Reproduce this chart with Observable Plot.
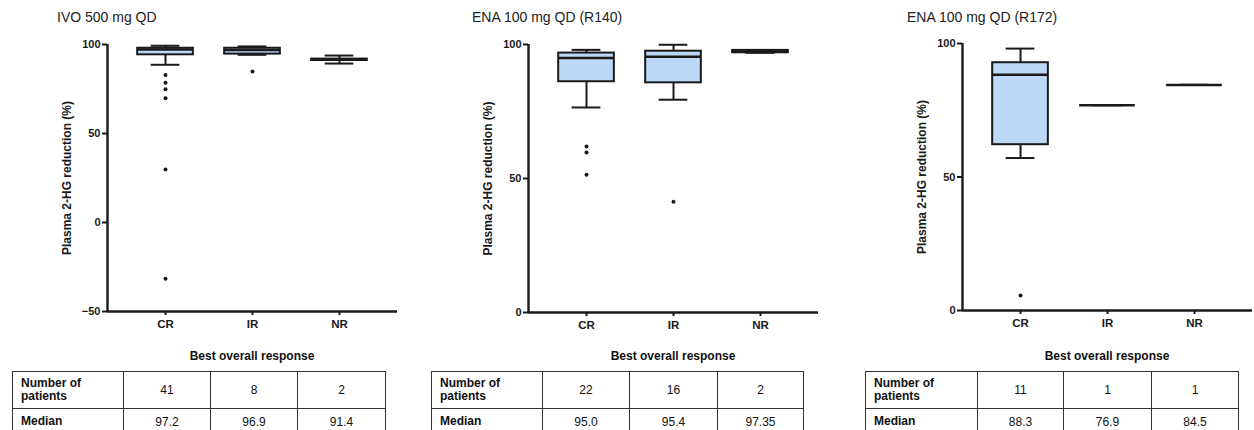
<!DOCTYPE html>
<html><head><meta charset="utf-8">
<script src="https://cdn.jsdelivr.net/npm/d3@7"></script>
<script src="https://cdn.jsdelivr.net/npm/@observablehq/plot@0.6"></script>
<style>
body{margin:0;width:1254px;height:430px;overflow:hidden;background:#fff;font-family:"Liberation Sans",Arial,sans-serif;position:relative;color:#111}
.title{position:absolute;top:9px;font-size:14px;line-height:16px;color:#222;white-space:nowrap}
.xlab{position:absolute;font-size:12px;line-height:14px;font-weight:bold;top:349px;transform:translateX(-50%);white-space:nowrap}
table{position:absolute;top:371px;border-collapse:collapse;font-size:12px;table-layout:fixed}
td{border:1.5px solid #333;text-align:center;padding:0}
td.h{text-align:left;font-weight:bold;padding-left:8px;line-height:13px}
.wrap{position:absolute;top:0}
</style></head><body>
<script>
// ---- data ----
const categories = ["CR", "IR", "NR"];
const titles = ["IVO 500 mg QD", "ENA 100 mg QD (R140)", "ENA 100 mg QD (R172)"];
const yLabel = "Plasma 2-HG reduction (%)";
const xLabel = "Best overall response";
const rowLabels = ["Number of patients", "Median"];

// IVO 500 mg QD
const ivoLow    = [88.6, 94.2, 89.3];
const ivoQ1     = [94.2, 94.6, 91.0];
const ivoMedian = [97.2, 96.9, 91.4];
const ivoQ3     = [97.9, 97.9, 91.8];
const ivoHigh   = [99.3, 98.9, 93.8];
const ivoOutCat = ["CR", "CR", "CR", "CR", "CR", "CR", "IR"];
const ivoOutVal = [82.8, 78.5, 74.9, 69.8, 29.8, -31.6, 84.8];
const ivoN      = [41, 8, 2];
const ivoMedTxt = ["97.2", "96.9", "91.4"];
const ivoTicks  = [-50, 0, 50, 100];

// ENA 100 mg QD (R140)
const r140Low    = [76.5, 79.4, 96.9];
const r140Q1     = [86.1, 85.7, 96.9];
const r140Median = [95.0, 95.4, 97.35];
const r140Q3     = [96.8, 97.5, 97.8];
const r140High   = [98.0, 99.9, 97.8];
const r140OutCat = ["CR", "CR", "CR", "IR"];
const r140OutVal = [61.9, 59.7, 51.4, 41.3];
const r140N      = [22, 16, 2];
const r140MedTxt = ["95.0", "95.4", "97.35"];
const r140Ticks  = [0, 50, 100];

// ENA 100 mg QD (R172)
const r172Low    = [57.1, 76.9, 84.5];
const r172Q1     = [62.1, 76.9, 84.5];
const r172Median = [88.3, 76.9, 84.5];
const r172Q3     = [92.8, 76.9, 84.5];
const r172High   = [98.1, 76.9, 84.5];
const r172OutCat = ["CR"];
const r172OutVal = [5.6];
const r172N      = [11, 1, 1];
const r172MedTxt = ["88.3", "76.9", "84.5"];
const r172Ticks  = [0, 50, 100];

// ---- layout ----
const panels = [
  {title: titles[0], low: ivoLow, q1: ivoQ1, med: ivoMedian, q3: ivoQ3, high: ivoHigh, outCat: ivoOutCat, outVal: ivoOutVal, n: ivoN, medTxt: ivoMedTxt, ticks: ivoTicks,
   yDomain: [-50, 100], left: 0, width: 410, mL: 107, mR: 13, mT: 44, mB: 29, titleX: 57, xlabX: 252, tableX: 12, cols: [111, 87, 87, 88]},
  {title: titles[1], low: r140Low, q1: r140Q1, med: r140Median, q3: r140Q3, high: r140High, outCat: r140OutCat, outVal: r140OutVal, n: r140N, medTxt: r140MedTxt, ticks: r140Ticks,
   yDomain: [0, 100], left: 420, width: 410, mL: 108, mR: 12, mT: 44, mB: 28, titleX: 472, xlabX: 673, tableX: 431, cols: [111, 87, 88, 86]},
  {title: titles[2], low: r172Low, q1: r172Q1, med: r172Median, q3: r172Q3, high: r172High, outCat: r172OutCat, outVal: r172OutVal, n: r172N, medTxt: r172MedTxt, ticks: r172Ticks,
   yDomain: [0, 100], left: 840, width: 414, mL: 122, mR: 2, mT: 43, mB: 30, titleX: 907, xlabX: 1107, tableX: 865, cols: [112, 86, 88, 87]}
];

const H = 340;
const half = 0.32, cap = 0.165, pad = 0.667;
const boxFill = "#bdd7f7", ink = "#1a1a1a";

for (const p of panels) {
  const boxes = categories.map((c, i) => ({i, low: p.low[i], q1: p.q1[i], med: p.med[i], q3: p.q3[i], high: p.high[i]}));
  const outs = p.outVal.map((v, k) => ({i: categories.indexOf(p.outCat[k]), v}));
  const chart = Plot.plot({
    width: p.width, height: H,
    marginLeft: p.mL, marginRight: p.mR, marginTop: p.mT, marginBottom: p.mB,
    style: {fontFamily: "'Liberation Sans', Arial, sans-serif", background: "transparent", overflow: "visible", color: ink},
    x: {domain: [-pad, categories.length - 1 + pad], axis: null},
    y: {domain: p.yDomain, axis: null},
    marks: [
      Plot.ruleX(boxes, {x: "i", y1: "low", y2: "q1", stroke: ink, strokeWidth: 2}),
      Plot.ruleX(boxes, {x: "i", y1: "q3", y2: "high", stroke: ink, strokeWidth: 2}),
      Plot.ruleY(boxes, {y: "low", x1: d => d.i - cap, x2: d => d.i + cap, stroke: ink, strokeWidth: 2}),
      Plot.ruleY(boxes, {y: "high", x1: d => d.i - cap, x2: d => d.i + cap, stroke: ink, strokeWidth: 2}),
      Plot.rectY(boxes, {x1: d => d.i - half, x2: d => d.i + half, y1: "q1", y2: "q3", fill: boxFill, stroke: ink, strokeWidth: 2}),
      Plot.ruleY(boxes, {y: "med", x1: d => d.i - half, x2: d => d.i + half, stroke: ink, strokeWidth: 2.5}),
      Plot.dot(outs, {x: "i", y: "v", r: 2, fill: ink, stroke: null}),
      Plot.ruleX([-pad], {stroke: ink, strokeWidth: 2.4}),
      Plot.ruleY([p.yDomain[0]], {stroke: ink, strokeWidth: 2.4}),
      Plot.axisY({ticks: p.ticks, tickSize: 5, tickPadding: 2, strokeWidth: 2, fontSize: 11, fontWeight: "bold", label: null, tickFormat: d => d < 0 ? "\u2212" + Math.abs(d) : String(d)}),
      Plot.axisX({ticks: categories.map((c, i) => i), tickSize: 4, tickPadding: 4, strokeWidth: 2, fontSize: 11.5, fontWeight: "bold", label: null, tickFormat: i => categories[i]}),
      Plot.text([yLabel], {frameAnchor: "left", textAnchor: "middle", dx: -40, rotate: -90, fontSize: 12, fontWeight: "bold", fill: ink})
    ]
  });
  const wrap = document.createElement("div");
  wrap.className = "wrap";
  wrap.style.left = p.left + "px";
  wrap.appendChild(chart);
  document.body.appendChild(wrap);

  const t = document.createElement("div");
  t.className = "title"; t.style.left = p.titleX + "px"; t.textContent = p.title;
  document.body.appendChild(t);

  const xl = document.createElement("div");
  xl.className = "xlab"; xl.style.left = p.xlabX + "px"; xl.textContent = xLabel;
  document.body.appendChild(xl);

  const tbl = document.createElement("table");
  tbl.style.left = p.tableX + "px";
  const cg = document.createElement("colgroup");
  for (const w of p.cols) { const c = document.createElement("col"); c.style.width = w + "px"; cg.appendChild(c); }
  tbl.appendChild(cg);
  const rows = [[rowLabels[0], ...p.n.map(String)], [rowLabels[1], ...p.medTxt]];
  rows.forEach((r, ri) => {
    const tr = document.createElement("tr");
    tr.style.height = (ri === 0 ? 37 : 26) + "px";
    r.forEach((v, ci) => {
      const td = document.createElement("td");
      if (ci === 0) { td.className = "h"; if (ri === 0) td.innerHTML = "Number of<br>patients"; else td.textContent = v; }
      else td.textContent = v;
      tr.appendChild(td);
    });
    tbl.appendChild(tr);
  });
  document.body.appendChild(tbl);
}
</script>
</body></html>
